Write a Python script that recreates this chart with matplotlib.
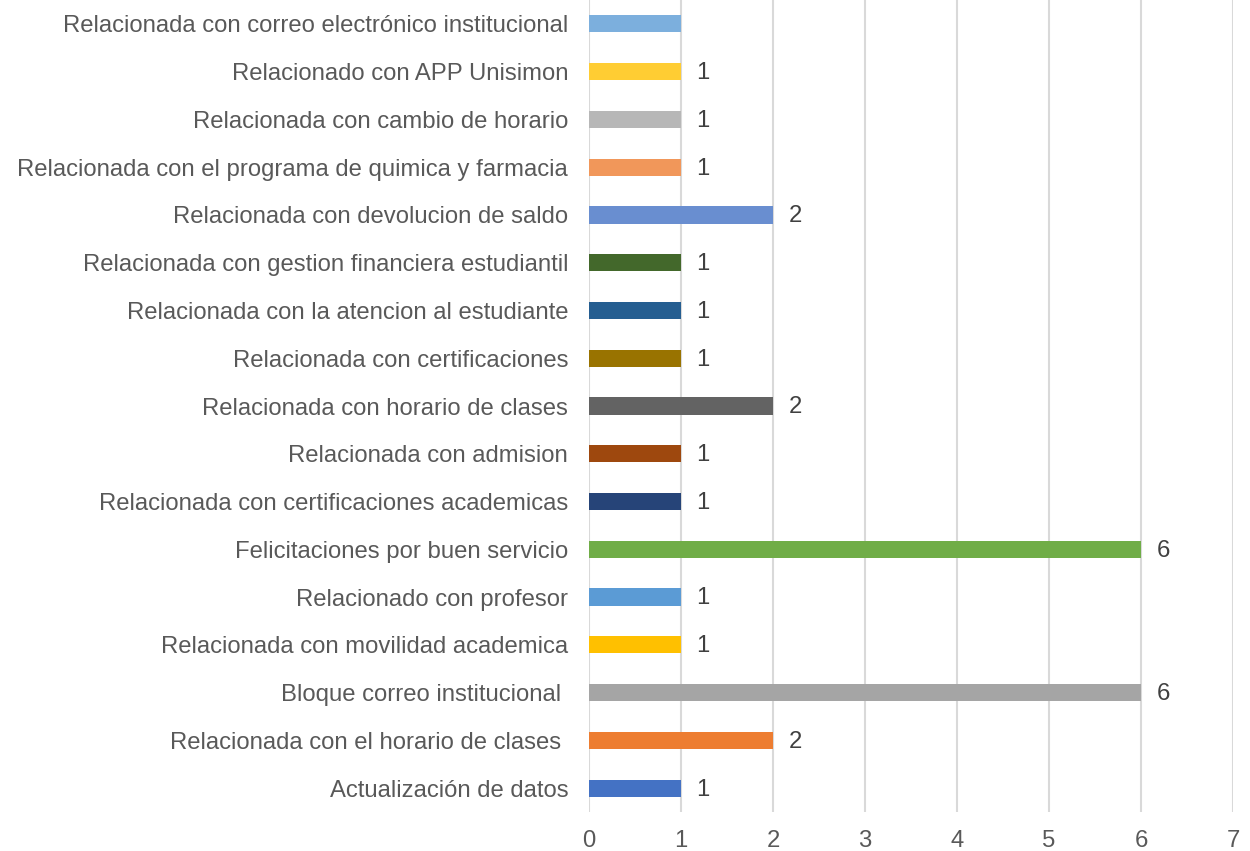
import matplotlib.pyplot as plt
import numpy as np

plt.rcParams['font.family'] = ['Liberation Sans', 'DejaVu Sans']

categorias = [
    'Actualización de datos',
    'Relacionada con el horario de clases ',
    'Bloque correo institucional ',
    'Relacionada con movilidad academica',
    'Relacionado con profesor',
    'Felicitaciones por buen servicio',
    'Relacionada con certificaciones academicas',
    'Relacionada con admision',
    'Relacionada con horario de clases',
    'Relacionada con certificaciones',
    'Relacionada con la atencion al estudiante',
    'Relacionada con gestion financiera estudiantil',
    'Relacionada con devolucion de saldo',
    'Relacionada con el programa de quimica y farmacia',
    'Relacionada con cambio de horario',
    'Relacionado con APP Unisimon',
    'Relacionada con correo electrónico institucional',
]
valores = [1, 2, 6, 1, 1, 6, 1, 1, 2, 1, 1, 1, 2, 1, 1, 1, 1]
colores = ['#4472C4', '#ED7D31', '#A5A5A5', '#FFC000', '#5B9BD5', '#70AD47',
           '#264478', '#9E480E', '#636363', '#997300', '#255E91', '#43682B',
           '#698ED0', '#F1975A', '#B7B7B7', '#FFCD33', '#7CAFDD']
# the top bar has no data label in the original
con_etiqueta = [True] * 16 + [False]

fig = plt.figure(figsize=(12.5, 8.51), dpi=100)
ax = fig.add_axes([0.4712, 0.0458, 0.5152, 0.9542])

y = np.arange(len(categorias))
ax.barh(y, valores, height=0.36, color=colores, zorder=3)
for yi, v, lab in zip(y, valores, con_etiqueta):
    if lab:
        ax.annotate(str(v), (v, yi), xytext=(11, -1), textcoords='offset points',
                    va='center', ha='left', fontsize=17.2, color='#404040')

ax.set_xlim(0, 7)
ax.set_ylim(-0.5, len(categorias) - 0.5)
ax.set_xticks(range(8))
ax.set_yticks(y)
ax.set_yticklabels(categorias)
ax.tick_params(axis='y', length=0, pad=15, labelsize=17.2, labelcolor='#595959')
ax.tick_params(axis='x', length=0, pad=13, labelsize=17.2, labelcolor='#595959')
ax.grid(axis='x', color='#D9D9D9', linewidth=1.5, zorder=0)
for s in ax.spines.values():
    s.set_visible(False)

fig.savefig('out.png', dpi=100)
